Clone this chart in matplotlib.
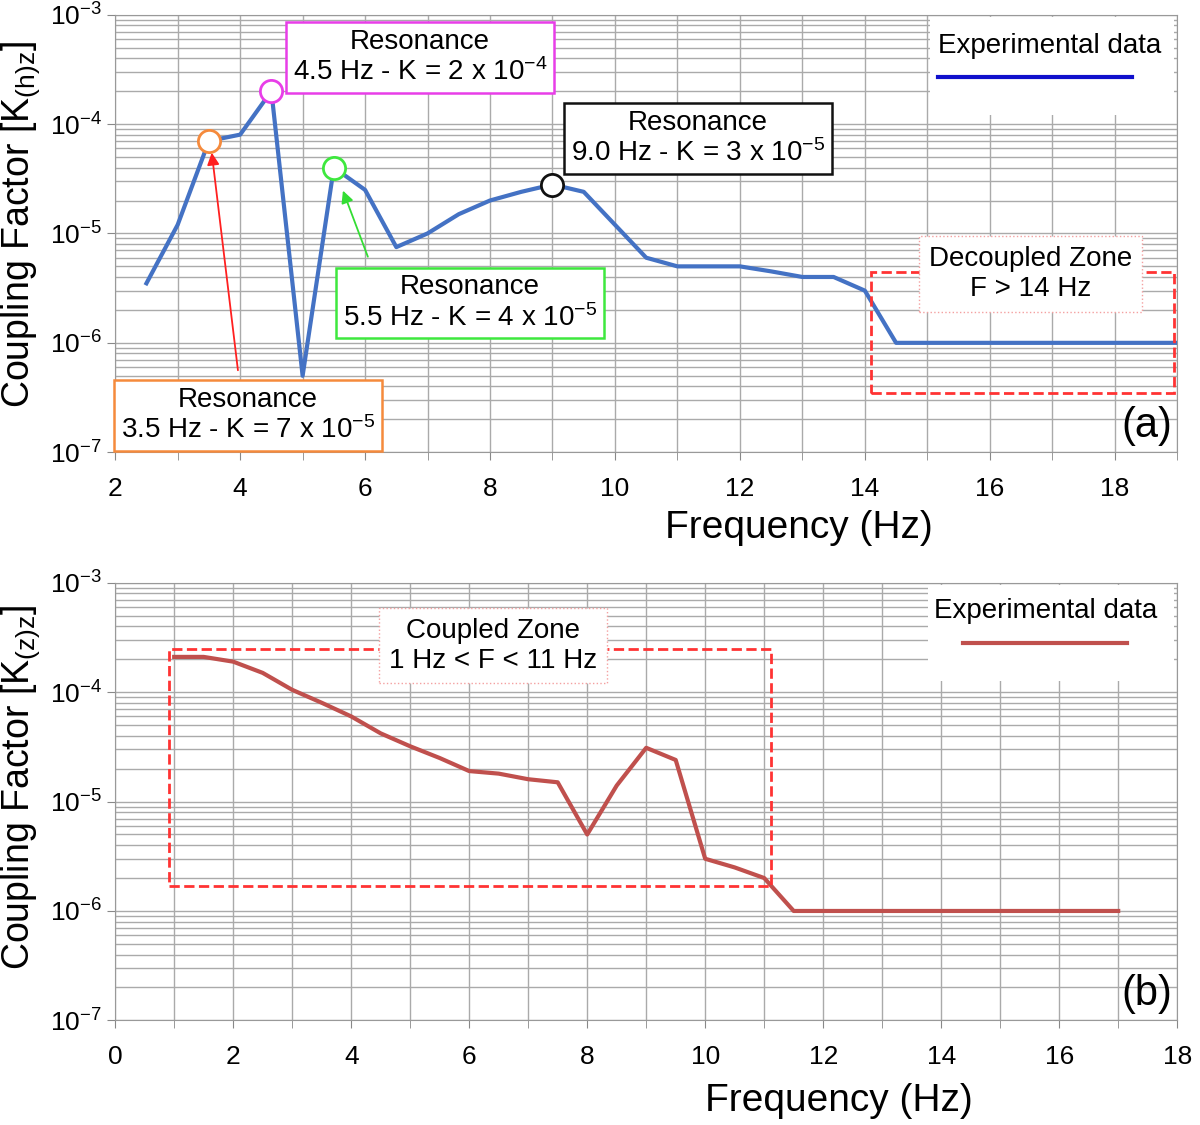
import matplotlib
matplotlib.use("Agg")
import matplotlib.pyplot as plt
from matplotlib.patches import Rectangle
from matplotlib.lines import Line2D
from matplotlib.ticker import MultipleLocator, LogLocator, NullFormatter

plt.rcParams['font.family'] = ['Liberation Sans', 'DejaVu Sans']
plt.rcParams['mathtext.default'] = 'regular'

# (a) coupling factor K(h)z
freq_a = [2.5, 3, 3.5, 4, 4.5, 5, 5.5, 6, 6.5, 7, 7.5, 8, 8.5, 9, 9.5, 10,
          10.5, 11, 11.5, 12, 12.5, 13, 13.5, 14, 14.5, 15, 16, 17, 18, 19]
k_a = [3.5e-6, 1.2e-5, 7e-5, 8e-5, 2e-4, 5e-7, 4e-5, 2.5e-5, 7.5e-6, 1e-5,
       1.5e-5, 2e-5, 2.4e-5, 2.8e-5, 2.4e-5, 1.2e-5, 6e-6, 5e-6, 5e-6, 5e-6,
       4.5e-6, 4e-6, 4e-6, 3e-6, 1e-6, 1e-6, 1e-6, 1e-6, 1e-6, 1e-6]

# (b) coupling factor K(z)z
freq_b = [1, 1.5, 2, 2.5, 3, 3.5, 4, 4.5, 5, 5.5, 6, 6.5, 7, 7.5, 8, 8.5, 9,
          9.5, 10, 10.5, 11, 11.5, 12, 13, 14, 15, 16, 17]
k_b = [2.1e-4, 2.1e-4, 1.9e-4, 1.5e-4, 1.05e-4, 8e-5, 6e-5, 4.2e-5, 3.2e-5,
       2.5e-5, 1.9e-5, 1.8e-5, 1.6e-5, 1.5e-5, 5e-6, 1.4e-5, 3.1e-5, 2.4e-5,
       3e-6, 2.5e-6, 2e-6, 1e-6, 1e-6, 1e-6, 1e-6, 1e-6, 1e-6, 1e-6]

# resonances in (a): frequency, K, label, colour
res_freq = [3.5, 4.5, 5.5, 9.0]
res_k = [7e-5, 2e-4, 4e-5, 2.8e-5]
res_text = ["Resonance\n3.5 Hz - K = 7 x 10$^{-5}$",
            "Resonance\n4.5 Hz - K = 2 x 10$^{-4}$",
            "Resonance\n5.5 Hz - K = 4 x 10$^{-5}$",
            "Resonance\n9.0 Hz - K = 3 x 10$^{-5}$"]
res_color = ['#f58a3c', '#e83ee8', '#3ee83e', '#111111']
res_box_pos = [(0.125, 0.085), (0.287, 0.902), (0.334, 0.341), (0.549, 0.716)]

blue = '#4472c4'
red = '#c0504d'
grid_c = '#aaaaaa'

fig = plt.figure(figsize=(12, 11.25), dpi=100)
ax1 = fig.add_axes([0.096, 0.598, 0.885, 0.389])
ax2 = fig.add_axes([0.096, 0.093, 0.885, 0.389])


def style(ax, xmin, xmax):
    ax.set_yscale('log')
    ax.set_ylim(1e-7, 1e-3)
    ax.set_xlim(xmin, xmax)
    ax.xaxis.set_major_locator(MultipleLocator(2))
    ax.xaxis.set_minor_locator(MultipleLocator(1))
    ax.yaxis.set_major_locator(LogLocator(base=10, numticks=10))
    ax.yaxis.set_minor_locator(LogLocator(base=10, subs=range(2, 10), numticks=20))
    ax.yaxis.set_minor_formatter(NullFormatter())
    ax.grid(True, which='both', color=grid_c, lw=1, zorder=0)
    ax.set_axisbelow(True)
    ax.tick_params(which='both', direction='out', color='#888888', labelsize=19)
    ax.tick_params(axis='y', which='minor', length=0)
    ax.tick_params(which='major', length=6)
    ax.tick_params(axis='x', which='minor', length=6)
    ax.tick_params(axis='x', pad=12)
    for s in ax.spines.values():
        s.set_color('#999999')


style(ax1, 2, 19)
style(ax2, 0, 18)

# ---- panel (a)
ax1.add_patch(Rectangle((0.767, 0.77), 0.23, 0.225, transform=ax1.transAxes,
                        facecolor='white', edgecolor='none', zorder=1))
ax1.text(0.880, 0.929, "Experimental data", transform=ax1.transAxes,
         ha='center', va='center', fontsize=20, zorder=3)
ax1.add_line(Line2D([0.775, 0.957], [0.858, 0.858], transform=ax1.transAxes,
                    color='#1010cc', lw=3, zorder=3))

ax1.plot(freq_a, k_a, color=blue, lw=3, zorder=4)

# decoupled zone
ax1.add_patch(Rectangle((14.1, 3.5e-7), 4.85, 4.4e-6 - 3.5e-7, fill=False,
                        edgecolor='#ff3333', ls='--', lw=2, zorder=5))
ax1.text(0.862, 0.407, "Decoupled Zone\nF > 14 Hz", transform=ax1.transAxes,
         ha='center', va='center', fontsize=20, linespacing=1.2, zorder=6,
         bbox=dict(boxstyle='square,pad=0.35', fc='white', ec='#f4a0a0',
                   ls=':', lw=1))

ax1.annotate("", xy=(3.54, 5.8e-5), xytext=(3.97, 5.3e-7),
             arrowprops=dict(arrowstyle='-|>', color='#ff2020', lw=1.3,
                             mutation_scale=18), zorder=6)
ax1.annotate("", xy=(5.63, 2.6e-5), xytext=(6.06, 5.8e-6),
             arrowprops=dict(arrowstyle='-|>', color='#33dd33', lw=1.3,
                             mutation_scale=18), zorder=6)

for f, k, txt, c, pos in zip(res_freq, res_k, res_text, res_color, res_box_pos):
    ax1.plot(f, k, 'o', ms=16, mfc='white', mec=c, mew=2, zorder=7)
    ax1.text(pos[0], pos[1], txt, transform=ax1.transAxes, ha='center',
             va='center', fontsize=20, linespacing=1.15, zorder=8,
             bbox=dict(boxstyle='square,pad=0.25', fc='white', ec=c, lw=1.8))

ax1.text(0.995, 0.015, "(a)", transform=ax1.transAxes, ha='right',
         va='bottom', fontsize=30, zorder=8)
ax1.set_xlabel("Frequency (Hz)", fontsize=28)
ax1.xaxis.set_label_coords(0.644, -0.133)
ax1.set_ylabel("Coupling Factor [K$_{(h)z}$]", fontsize=27)
ax1.yaxis.set_label_coords(-0.069, 0.52)

# ---- panel (b)
ax2.add_patch(Rectangle((0.765, 0.775), 0.232, 0.22, transform=ax2.transAxes,
                        facecolor='white', edgecolor='none', zorder=1))
ax2.text(0.876, 0.936, "Experimental data", transform=ax2.transAxes,
         ha='center', va='center', fontsize=20, zorder=3)
ax2.add_line(Line2D([0.798, 0.953], [0.863, 0.863], transform=ax2.transAxes,
                    color=red, lw=3, zorder=3))

ax2.plot(freq_b, k_b, color=red, lw=3, zorder=4)

ax2.add_patch(Rectangle((0.92, 1.7e-6), 11.12 - 0.92, 2.5e-4 - 1.7e-6,
                        fill=False, edgecolor='#ff3333', ls='--', lw=2, zorder=5))
ax2.text(0.356, 0.856, "Coupled Zone\n1 Hz < F < 11 Hz", transform=ax2.transAxes,
         ha='center', va='center', fontsize=20, linespacing=1.2, zorder=6,
         bbox=dict(boxstyle='square,pad=0.35', fc='white', ec='#f4a0a0',
                   ls=':', lw=1))

ax2.text(0.995, 0.015, "(b)", transform=ax2.transAxes, ha='right',
         va='bottom', fontsize=30, zorder=8)
ax2.set_xlabel("Frequency (Hz)", fontsize=28)
ax2.xaxis.set_label_coords(0.681, -0.142)
ax2.set_ylabel("Coupling Factor [K$_{(z)z}$]", fontsize=27)
ax2.yaxis.set_label_coords(-0.069, 0.533)

fig.savefig("out.png", dpi=100)
